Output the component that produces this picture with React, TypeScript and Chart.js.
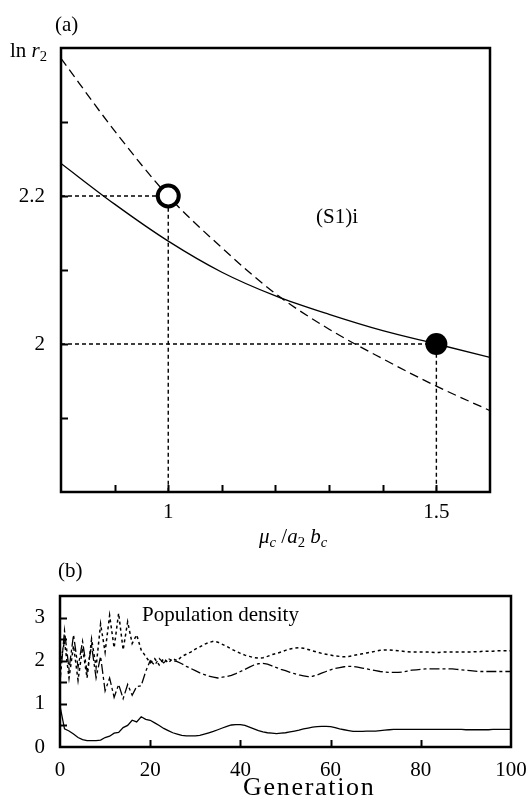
import React, { useEffect, useRef } from 'react';
import { Chart, registerables } from 'chart.js';

Chart.register(...registerables);

// ---------- Panel (a) data ----------
const MU_RATIO = [0.8, 0.9, 1.0, 1.1, 1.2, 1.3, 1.4, 1.5, 1.6];
const LN_R2_DASHED = [2.386, 2.288, 2.2, 2.13, 2.068, 2.02, 1.98, 1.943, 1.91];
const LN_R2_SOLID = [2.244, 2.189, 2.139, 2.097, 2.065, 2.04, 2.018, 2.0, 1.982];
const OPEN_POINT = [1.0, 2.2];
const FILLED_POINT = [1.5, 2.0];
const A_X_RANGE = [0.8, 1.6];
const A_Y_RANGE = [1.8, 2.4];
const A_X_LABELS = [1, 1.5];
const A_Y_LABELS = [2, 2.2];

// ---------- Panel (b) data ----------
const GENERATIONS = Array.from({ length: 101 }, (_, i) => i);
const POP_DOTTED = [
  1.9, 2.45, 1.6, 2.35, 1.55, 2.3, 1.6, 2.5, 1.85, 2.85,
  2.2, 3.05, 2.3, 3.1, 2.25, 2.9, 2.4, 2.6, 2.25, 2.1,
  1.95, 2.05, 1.9, 2.05, 1.95, 2.05, 2.0, 2.1, 2.15, 2.2,
  2.27, 2.32, 2.38, 2.42, 2.45, 2.43, 2.38, 2.33, 2.27, 2.22,
  2.17, 2.13, 2.1, 2.07, 2.06, 2.07, 2.1, 2.14, 2.17, 2.2,
  2.24, 2.27, 2.29, 2.3, 2.29, 2.26, 2.23, 2.2, 2.17, 2.15,
  2.13, 2.11, 2.1, 2.09, 2.1, 2.12, 2.14, 2.16, 2.18, 2.2,
  2.22, 2.24, 2.25, 2.25, 2.24, 2.23, 2.22, 2.21, 2.2, 2.2,
  2.2, 2.2, 2.2, 2.19, 2.19, 2.2, 2.2, 2.2, 2.2, 2.2,
  2.2, 2.2, 2.21, 2.21, 2.22, 2.22, 2.22, 2.23, 2.23, 2.23, 2.23,
];
const POP_DASHDOT = [
  1.5, 2.7, 1.8, 2.6, 1.85, 2.45, 1.75, 2.35, 1.6, 2.1,
  1.3, 1.6, 1.15, 1.45, 1.12, 1.45, 1.2, 1.4, 1.42, 1.75,
  2.0, 1.9, 2.05, 1.95, 2.05, 2.0, 1.98, 1.93, 1.87, 1.82,
  1.77, 1.72, 1.68, 1.64, 1.62, 1.6, 1.62, 1.63, 1.66, 1.7,
  1.75, 1.8, 1.85, 1.9, 1.93, 1.94, 1.92, 1.88, 1.84, 1.8,
  1.77, 1.73, 1.7, 1.67, 1.65, 1.63, 1.64, 1.67, 1.71, 1.75,
  1.79, 1.82, 1.84, 1.86, 1.87, 1.87, 1.85, 1.83, 1.81, 1.79,
  1.77, 1.75, 1.74, 1.73, 1.73, 1.73, 1.74, 1.76, 1.78, 1.79,
  1.8, 1.81, 1.81, 1.81, 1.81, 1.81, 1.81, 1.81, 1.8, 1.79,
  1.78, 1.77, 1.76, 1.75, 1.75, 1.75, 1.75, 1.75, 1.75, 1.75, 1.75,
];
const POP_SOLID = [
  0.95, 0.42, 0.37, 0.3, 0.22, 0.17, 0.15, 0.15, 0.15, 0.16,
  0.22, 0.25, 0.32, 0.34, 0.45, 0.5, 0.62, 0.58, 0.7, 0.64,
  0.62, 0.56, 0.5, 0.43, 0.38, 0.33, 0.3, 0.27, 0.26, 0.26,
  0.26, 0.27, 0.3, 0.33, 0.36, 0.4, 0.44, 0.48, 0.51, 0.52,
  0.52, 0.5, 0.46, 0.42, 0.38, 0.35, 0.33, 0.32, 0.31, 0.32,
  0.33, 0.35, 0.37, 0.39, 0.42, 0.44, 0.46, 0.47, 0.48, 0.48,
  0.47, 0.45, 0.42, 0.4, 0.38, 0.36, 0.36, 0.36, 0.37, 0.37,
  0.37, 0.38, 0.39, 0.4, 0.41, 0.41, 0.41, 0.41, 0.41, 0.41,
  0.41, 0.41, 0.41, 0.41, 0.41, 0.41, 0.41, 0.41, 0.41, 0.41,
  0.4, 0.4, 0.4, 0.4, 0.4, 0.4, 0.41, 0.41, 0.41, 0.41, 0.41,
];
const B_X_RANGE = [0, 100];
const B_Y_RANGE = [0, 3.5];

const FONT = '"Liberation Serif", "Times New Roman", serif';

const near = (v: number, list: number[]) => list.some((l) => Math.abs(l - v) < 1e-6);

function frameTicksPlugin(len: number) {
  return {
    id: 'frameTicks',
    afterDatasetsDraw(chart: any) {
      const { ctx, chartArea: a, scales } = chart;
      const xs = scales.x;
      const ys = scales.y;
      ctx.save();
      ctx.strokeStyle = '#000';
      ctx.lineWidth = 2;
      xs.ticks.forEach((t: any) => {
        if (t.value <= xs.min + 1e-9 || t.value >= xs.max - 1e-9) return;
        const px = Math.round(xs.getPixelForValue(t.value)) + 0.5;
        ctx.beginPath();
        ctx.moveTo(px, a.bottom);
        ctx.lineTo(px, a.bottom - len);
        ctx.stroke();
      });
      ys.ticks.forEach((t: any) => {
        if (t.value <= ys.min + 1e-9 || t.value >= ys.max - 1e-9) return;
        const py = Math.round(ys.getPixelForValue(t.value)) + 0.5;
        ctx.beginPath();
        ctx.moveTo(a.left, py);
        ctx.lineTo(a.left + len, py);
        ctx.stroke();
      });
      ctx.lineWidth = 2.5;
      ctx.strokeRect(a.left, a.top, a.right - a.left, a.bottom - a.top);
      ctx.restore();
    },
  };
}

function ChartA() {
  const ref = useRef<HTMLCanvasElement>(null);
  useEffect(() => {
    const [ox, oy] = OPEN_POINT;
    const [fx, fy] = FILLED_POINT;
    const guideOpen = [
      { x: A_X_RANGE[0], y: oy },
      { x: ox, y: oy },
      { x: ox, y: A_Y_RANGE[0] },
    ];
    const guideFilled = [
      { x: A_X_RANGE[0], y: fy },
      { x: fx, y: fy },
      { x: fx, y: A_Y_RANGE[0] },
    ];
    const chart = new Chart(ref.current as HTMLCanvasElement, {
      type: 'line',
      data: {
        datasets: [
          {
            data: [{ x: ox, y: oy }],
            showLine: false,
            pointRadius: 10.5,
            pointBorderWidth: 4,
            pointBackgroundColor: '#fff',
            pointBorderColor: '#000',
          },
          {
            data: [{ x: fx, y: fy }],
            showLine: false,
            pointRadius: 11,
            pointBorderWidth: 0,
            pointBackgroundColor: '#000',
            pointBorderColor: '#000',
          },
          {
            data: MU_RATIO.map((x, i) => ({ x, y: LN_R2_DASHED[i] })),
            borderColor: '#000',
            borderWidth: 1.3,
            borderDash: [9, 5],
            pointRadius: 0,
            cubicInterpolationMode: 'monotone',
          },
          {
            data: MU_RATIO.map((x, i) => ({ x, y: LN_R2_SOLID[i] })),
            borderColor: '#000',
            borderWidth: 1.3,
            pointRadius: 0,
            cubicInterpolationMode: 'monotone',
          },
          {
            data: guideOpen,
            borderColor: '#000',
            borderWidth: 1.4,
            borderDash: [4, 3],
            pointRadius: 0,
          },
          {
            data: guideFilled,
            borderColor: '#000',
            borderWidth: 1.4,
            borderDash: [4, 3],
            pointRadius: 0,
          },
        ],
      },
      options: {
        responsive: false,
        animation: false,
        events: [],
        layout: { padding: { top: 48, right: 40, left: 0, bottom: 0 } },
        plugins: { legend: { display: false }, tooltip: { enabled: false } },
        scales: {
          x: {
            type: 'linear',
            min: A_X_RANGE[0],
            max: A_X_RANGE[1],
            afterFit: (s: any) => {
              s.height = 53;
            },
            grid: { display: false, drawTicks: false },
            border: { display: false },
            ticks: {
              stepSize: 0.1,
              padding: 8,
              color: '#000',
              font: { family: FONT, size: 21 },
              maxRotation: 0,
              autoSkip: false,
              callback: (v: any) => (near(Number(v), A_X_LABELS) ? String(Math.round(Number(v) * 10) / 10) : ''),
            },
          },
          y: {
            type: 'linear',
            min: A_Y_RANGE[0],
            max: A_Y_RANGE[1],
            afterFit: (s: any) => {
              s.width = 61;
            },
            grid: { display: false, drawTicks: false },
            border: { display: false },
            ticks: {
              stepSize: 0.1,
              padding: 16,
              color: '#000',
              font: { family: FONT, size: 21 },
              autoSkip: false,
              callback: (v: any) => (near(Number(v), A_Y_LABELS) ? String(Math.round(Number(v) * 10) / 10) : ''),
            },
          },
        },
      },
      plugins: [frameTicksPlugin(7)],
    } as any);
    return () => chart.destroy();
  }, []);
  return (
    <canvas
      ref={ref}
      width={530}
      height={545}
      style={{ position: 'absolute', left: 0, top: 0, width: 530, height: 545 }}
    />
  );
}

function ChartB() {
  const ref = useRef<HTMLCanvasElement>(null);
  useEffect(() => {
    const chart = new Chart(ref.current as HTMLCanvasElement, {
      type: 'line',
      data: {
        datasets: [
          {
            data: GENERATIONS.map((g, i) => ({ x: g, y: POP_SOLID[i] })),
            borderColor: '#000',
            borderWidth: 1.3,
            pointRadius: 0,
          },
          {
            data: GENERATIONS.map((g, i) => ({ x: g, y: POP_DASHDOT[i] })),
            borderColor: '#000',
            borderWidth: 1.3,
            borderDash: [10, 3, 3, 3],
            pointRadius: 0,
          },
          {
            data: GENERATIONS.map((g, i) => ({ x: g, y: POP_DOTTED[i] })),
            borderColor: '#000',
            borderWidth: 1.5,
            borderDash: [3, 3],
            pointRadius: 0,
          },
        ],
      },
      options: {
        responsive: false,
        animation: false,
        events: [],
        layout: { padding: { top: 36, right: 19, left: 0, bottom: 0 } },
        plugins: { legend: { display: false }, tooltip: { enabled: false } },
        scales: {
          x: {
            type: 'linear',
            min: B_X_RANGE[0],
            max: B_X_RANGE[1],
            afterFit: (s: any) => {
              s.height = 56;
              s.paddingLeft = 0;
              s.paddingRight = 0;
            },
            grid: { display: false, drawTicks: false },
            border: { display: false },
            ticks: {
              stepSize: 20,
              padding: 11,
              color: '#000',
              font: { family: FONT, size: 21 },
              maxRotation: 0,
              autoSkip: false,
            },
          },
          y: {
            type: 'linear',
            min: B_Y_RANGE[0],
            max: B_Y_RANGE[1],
            afterFit: (s: any) => {
              s.width = 60;
            },
            grid: { display: false, drawTicks: false },
            border: { display: false },
            ticks: {
              stepSize: 0.5,
              padding: 15,
              color: '#000',
              font: { family: FONT, size: 21 },
              autoSkip: false,
              callback: (v: any) => (Math.abs(Number(v) - Math.round(Number(v))) < 1e-6 && Number(v) < 3.4 ? String(Math.round(Number(v))) : ''),
            },
          },
        },
      },
      plugins: [frameTicksPlugin(7)],
    } as any);
    return () => chart.destroy();
  }, []);
  return (
    <canvas
      ref={ref}
      width={530}
      height={243}
      style={{ position: 'absolute', left: 0, top: 560, width: 530, height: 243 }}
    />
  );
}

const txt = (left: number, top: number, size = 21): React.CSSProperties => ({
  position: 'absolute',
  left,
  top,
  fontFamily: FONT,
  fontSize: size,
  lineHeight: `${size}px`,
  color: '#000',
  whiteSpace: 'nowrap',
  pointerEvents: 'none',
});

const sub: React.CSSProperties = { fontSize: '0.7em', verticalAlign: '-0.3em', lineHeight: 0 };

export default function App() {
  return (
    <div style={{ position: 'absolute', left: 0, top: 0, width: 530, height: 803, background: '#fff', overflow: 'hidden' }}>
      <ChartA />
      <ChartB />
      <div style={txt(55, 14)}>(a)</div>
      <div style={txt(10, 40)}>
        ln <i>r</i>
        <span style={sub}>2</span>
      </div>
      <div style={txt(316, 206)}>(S1)i</div>
      <div style={txt(259, 526)}>
        <i>μ</i>
        <span style={sub}>
          <i>c</i>
        </span>
        {' /'}
        <i>a</i>
        <span style={sub}>2</span>
        <i> b</i>
        <span style={sub}>
          <i>c</i>
        </span>
      </div>
      <div style={txt(58, 560)}>(b)</div>
      <div style={txt(142, 604)}>Population density</div>
      <div style={{ ...txt(243, 774, 26), letterSpacing: '1.7px' }}>Generation</div>
    </div>
  );
}
